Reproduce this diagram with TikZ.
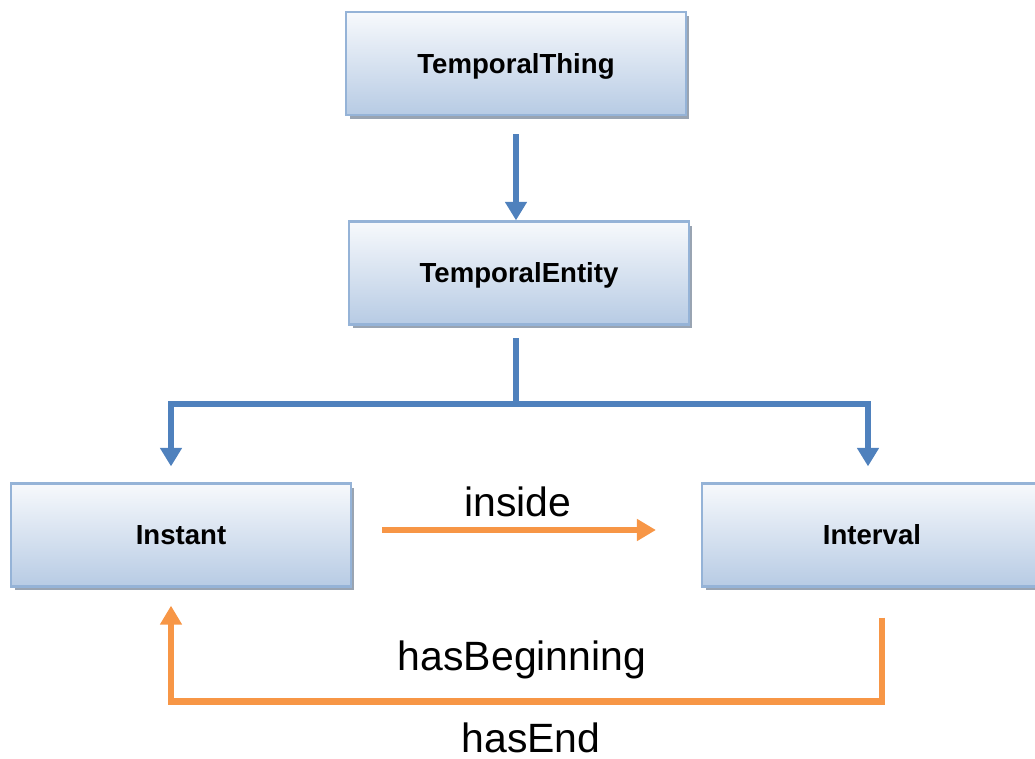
\documentclass[tikz,border=0pt]{standalone}
\usepackage{fontspec}
\setmainfont{Liberation Sans}
\usetikzlibrary{arrows.meta,calc,shadows}

\definecolor{boxtop}{HTML}{F7F9FC}
\definecolor{boxbottom}{HTML}{B7CBE4}
\definecolor{boxline}{HTML}{95B3D7}
\definecolor{boxshade}{HTML}{8E9AAA}
\definecolor{linkblue}{HTML}{4F81BD}
\definecolor{linkorange}{HTML}{F79646}

\tikzset{
  classbox/.style={
    rectangle, draw=boxline, line width=1.3pt,
    top color=boxtop, bottom color=boxbottom,
    minimum width=6.8cm, minimum height=2.06cm,
    text height=11.25pt, text depth=0pt,
    font=\bfseries\fontsize{15.7}{18}\selectfont,
    drop shadow={shadow xshift=0.07cm, shadow yshift=-0.08cm,
                 fill=boxshade, opacity=0.9}
  },
  bluelink/.style={draw=linkblue, line width=3.2pt,
    -{Triangle[width=0.42cm,length=0.37cm]}},
  orangelink/.style={draw=linkorange, line width=3.6pt,
    -{Triangle[width=0.42cm,length=0.38cm]}},
  relname/.style={font=\fontsize{23.3}{26}\selectfont, anchor=base, inner sep=0pt}
}

\begin{document}
\begin{tikzpicture}[x=0.02cm, y=-0.02cm]
  \useasboundingbox (0,0) rectangle (1035,758);
  \clip (0,0) rectangle (1035,758);

  % class hierarchy
  \node[classbox] (thing)  at (516,63.5) {TemporalThing};
  \node[classbox] (entity) at (519,273)  {TemporalEntity};
  \node[classbox] (instant) at (181,535) {Instant};
  \node[classbox] (interval) at (872,535) {Interval};

  % subclass arrows
  \draw[bluelink] ($(thing.south)+(0,18)$) -- (thing.south |- entity.north);
  \coordinate (fork) at (516,404);
  \draw[draw=linkblue, line width=3.2pt] (516,338) -- (fork);
  \draw[bluelink] (fork) -| ($(instant.north)+(-10,-16)$);
  \draw[bluelink] (fork) -| ($(interval.north)+(-4,-16)$);

  % properties
  \draw[orangelink] ($(instant.east)+(30,-5)$) -- ($(interval.west)+(-45,-5)$);
  \node[relname] (inside) at (518,516) {inside};

  \draw[orangelink] ($(interval.south)+(10,30)$) |- ($(instant.south)+(-10,114)$)
        -- ($(instant.south)+(-10,18)$);
  \node[relname] (beg) at (522,670) {hasBeginning};
  \node[relname] (end) at (531,752) {hasEnd};
\end{tikzpicture}
\end{document}
